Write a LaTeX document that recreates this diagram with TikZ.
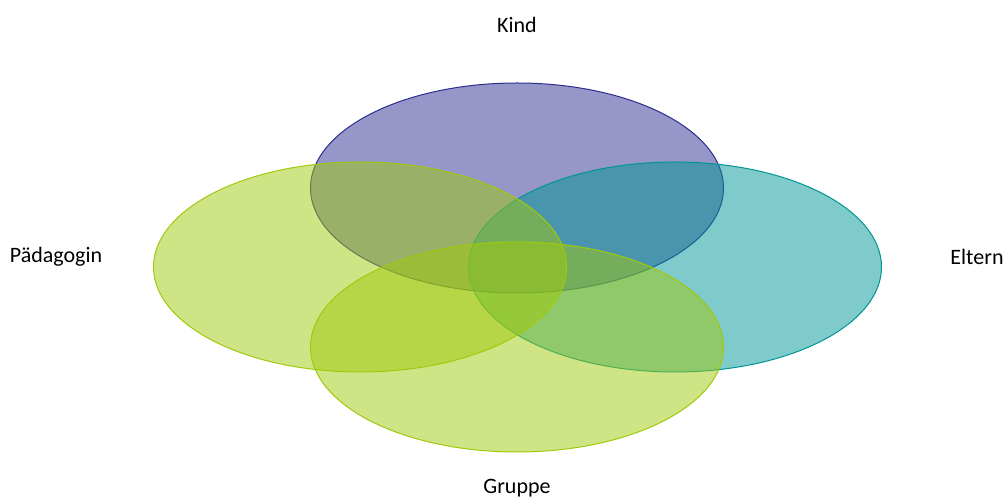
\documentclass[tikz,border=0pt]{standalone}
\usepackage{fontspec}
\setmainfont{Carlito}
\usetikzlibrary{shapes.geometric, positioning}
\definecolor{kindblue}{RGB}{45,45,145}
\definecolor{elternteal}{RGB}{0,149,149}
\definecolor{limegreen}{RGB}{159,201,11}
\tikzset{bubble/.style={ellipse, minimum width=206.5pt, minimum height=105pt, inner sep=0pt, line width=0.5pt, fill opacity=0.5},
kindbubble/.style={bubble, fill=kindblue, draw=kindblue},
elternbubble/.style={bubble, fill=elternteal, draw=elternteal},
greenbubble/.style={bubble, fill=limegreen, draw=limegreen},
caption/.style={font=\fontsize{11}{13}\selectfont, text=black, inner sep=0pt}}
\begin{document}
\begin{tikzpicture}[x=0.5pt, y=-0.5pt]
        \useasboundingbox (0,0) rectangle (1007,501);
        % Ellipses
        \node[kindbubble] (kind) at (517,188) {};
        \node[elternbubble] (eltern) at (675,267) {};
        \node[greenbubble] (gruppe) at (517,347) {};
        \node[greenbubble] (paedagogin) at (360,267) {};
        % Captions
        \node[caption] (kindtext) at (517,25) {Kind};
        \node[caption] (elterntext) at (977,257) {Eltern};
        \node[caption] (gruppetext) at (517,488) {Gruppe};
        \node[caption] (paedagogintext) at (56,257) {Pädagogin};
    \end{tikzpicture}
\end{document}
